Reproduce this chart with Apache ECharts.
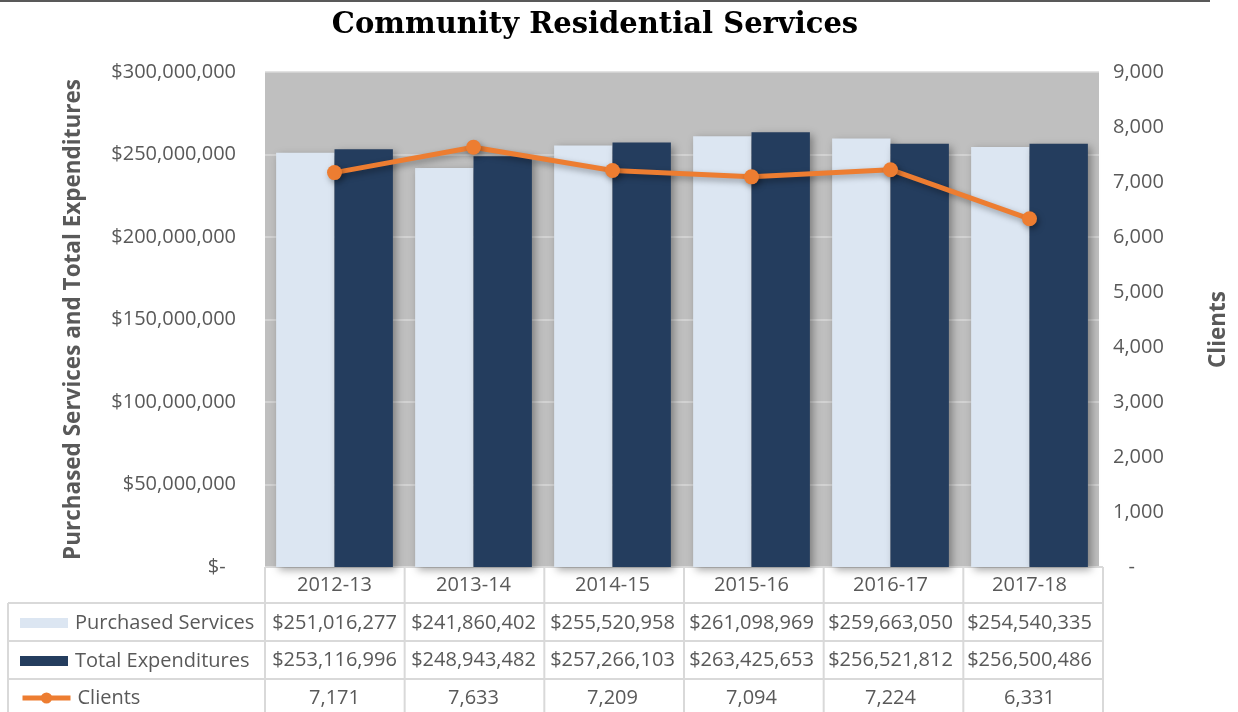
<!DOCTYPE html>
<html>
<head>
<meta charset="utf-8">
<script src="https://cdn.jsdelivr.net/npm/echarts@6/dist/echarts.min.js"></script>
<style>
  html, body { margin: 0; padding: 0; background: #ffffff; }
  #chart { width: 1238px; height: 712px; }
</style>
</head>
<body>
<div id="chart"></div>
<script>
// Fiscal years and the three series shown in the chart and its data table
const categories = ['2012-13', '2013-14', '2014-15', '2015-16', '2016-17', '2017-18'];
const purchasedServices = [251016277, 241860402, 255520958, 261098969, 259663050, 254540335];
const totalExpenditures = [253116996, 248943482, 257266103, 263425653, 256521812, 256500486];
const clients = [7171, 7633, 7209, 7094, 7224, 6331];

const seriesNames = ['Purchased Services', 'Total Expenditures', 'Clients'];
const titleText = 'Community Residential Services';
const leftAxisName = 'Purchased Services and Total Expenditures';
const rightAxisName = 'Clients';

const FONT = '"Open Sans", "Noto Sans", sans-serif';
const TEXT = '#595959';
const TABLE_LINE = '#d9d9d9';
const LIGHT = '#dce6f2';
const DARK = '#243d5e';
const ORANGE = '#ed7d31';

// plot area geometry (px)
const G = { left: 265, right: 135, top: 72, bottom: 145 };
const W = 1238, H = 712;
const plotRight = W - G.right;
const plotBottom = H - G.bottom;
const ROW = 37.5;
// vertical centres of the three data rows of the table
const rowCentres = [620, 658, 695];

const withCommas = n => String(n).replace(/\B(?=(\d{3})+(?!\d))/g, ',');
const money = n => '$' + withCommas(n);

const chart = echarts.init(document.getElementById('chart'), null, { renderer: 'canvas' });

// data table grid lines below the plot
function tableLines() {
  const els = [];
  const colW = (plotRight - G.left) / categories.length;
  const line = (x1, y1, x2, y2) => ({
    type: 'line', silent: true,
    shape: { x1, y1, x2, y2 },
    style: { stroke: TABLE_LINE, lineWidth: 2 }
  });
  // horizontal rules
  els.push(line(G.left, plotBottom, plotRight, plotBottom));
  for (let r = 1; r <= 3; r++) {
    const y = plotBottom + 36 + (r - 1) * 38;
    els.push(line(8, y, plotRight, y));
  }
  // vertical rules
  els.push(line(8, plotBottom + 36, 8, H));
  for (let c = 0; c <= categories.length; c++) {
    const x = G.left + c * colW;
    els.push(line(x, plotBottom, x, H));
  }
  // top rule of the page
  els.push({
    type: 'line', silent: true,
    shape: { x1: 0, y1: 1, x2: 1210, y2: 1 },
    style: { stroke: '#595959', lineWidth: 2 }
  });
  return els;
}

// one legend per table row, acting as the row header
const legends = seriesNames.map((name, i) => {
  const isLine = i === 2;
  return {
    orient: 'vertical',
    left: 15, top: rowCentres[i] - (isLine ? 12 : 12),
    itemWidth: 48, itemHeight: isLine ? 14 : 10,
    icon: isLine ? undefined : 'rect',
    lineStyle: isLine ? { width: 5 } : undefined,
    data: [name],
    textStyle: { fontFamily: FONT, fontSize: 20, color: TEXT, padding: [0, 0, 0, 2] }
  };
});

const option = {
  backgroundColor: '#ffffff',
  animation: false,
  title: {
    text: titleText,
    left: 590, top: 6,
    textAlign: 'center',
    textStyle: {
      fontFamily: '"DejaVu Serif", "Liberation Serif", serif',
      fontWeight: 'bold', fontSize: 29, color: '#000000'
    }
  },
  legend: legends,
  grid: {
    left: G.left, right: G.right, top: G.top, bottom: G.bottom,
    show: true, backgroundColor: '#bfbfbf', borderWidth: 0,
    containLabel: false
  },
  xAxis: {
    type: 'category',
    data: categories,
    axisLine: { show: false },
    axisTick: { show: false },
    axisLabel: {
      margin: 0,
      interval: 0,
      formatter: (val, idx) =>
        '{c|' + val + '}\n{v|' + money(purchasedServices[idx]) + '}\n{v|' +
        money(totalExpenditures[idx]) + '}\n{v|' + withCommas(clients[idx]) + '}',
      rich: {
        c: { fontFamily: FONT, fontSize: 20, color: TEXT, lineHeight: ROW, align: 'center' },
        v: { fontFamily: FONT, fontSize: 20, color: TEXT, lineHeight: ROW, align: 'center' }
      }
    }
  },
  yAxis: [
    {
      type: 'value',
      min: 0, max: 300000000, interval: 50000000,
      name: leftAxisName,
      nameLocation: 'middle', nameRotate: 90, nameGap: 180,
      nameTextStyle: { fontFamily: FONT, fontSize: 22.5, fontWeight: 'bold', color: TEXT },
      axisLine: { show: false }, axisTick: { show: false },
      axisLabel: {
        margin: 29,
        fontFamily: FONT, fontSize: 20, color: TEXT,
        formatter: v => (v === 0 ? '$-  ' : money(v))
      },
      splitLine: { lineStyle: { color: '#d9d9d9', width: 1.5 } }
    },
    {
      type: 'value',
      min: 0, max: 9000, interval: 1000,
      name: rightAxisName,
      nameLocation: 'middle', nameRotate: 90, nameGap: 108,
      nameTextStyle: {
        fontFamily: FONT, fontSize: 22.5, fontWeight: 'bold', color: TEXT,
        padding: [0, 20, 0, 0]
      },
      axisLine: { show: false }, axisTick: { show: false },
      axisLabel: {
        margin: 14,
        fontFamily: FONT, fontSize: 20, color: TEXT,
        formatter: v => (v === 0 ? '   -' : withCommas(v))
      },
      splitLine: { show: false }
    }
  ],
  series: [
    {
      name: seriesNames[0], type: 'bar', yAxisIndex: 0,
      data: purchasedServices,
      barGap: '0%', barCategoryGap: '16%',
      itemStyle: {
        color: LIGHT,
        shadowBlur: 8, shadowColor: 'rgba(0,0,0,0.35)', shadowOffsetX: 3, shadowOffsetY: 3
      }
    },
    {
      name: seriesNames[1], type: 'bar', yAxisIndex: 0,
      data: totalExpenditures,
      barGap: '0%', barCategoryGap: '16%',
      itemStyle: {
        color: DARK,
        shadowBlur: 8, shadowColor: 'rgba(0,0,0,0.35)', shadowOffsetX: 3, shadowOffsetY: 3
      }
    },
    {
      name: seriesNames[2], type: 'line', yAxisIndex: 1,
      data: clients,
      symbol: 'circle', symbolSize: 15,
      lineStyle: {
        color: ORANGE, width: 5,
        shadowBlur: 6, shadowColor: 'rgba(0,0,0,0.35)', shadowOffsetX: 2, shadowOffsetY: 3
      },
      itemStyle: {
        color: ORANGE,
        shadowBlur: 6, shadowColor: 'rgba(0,0,0,0.35)', shadowOffsetX: 2, shadowOffsetY: 3
      },
      z: 5
    }
  ],
  graphic: tableLines()
};

chart.setOption(option);
</script>
</body>
</html>
